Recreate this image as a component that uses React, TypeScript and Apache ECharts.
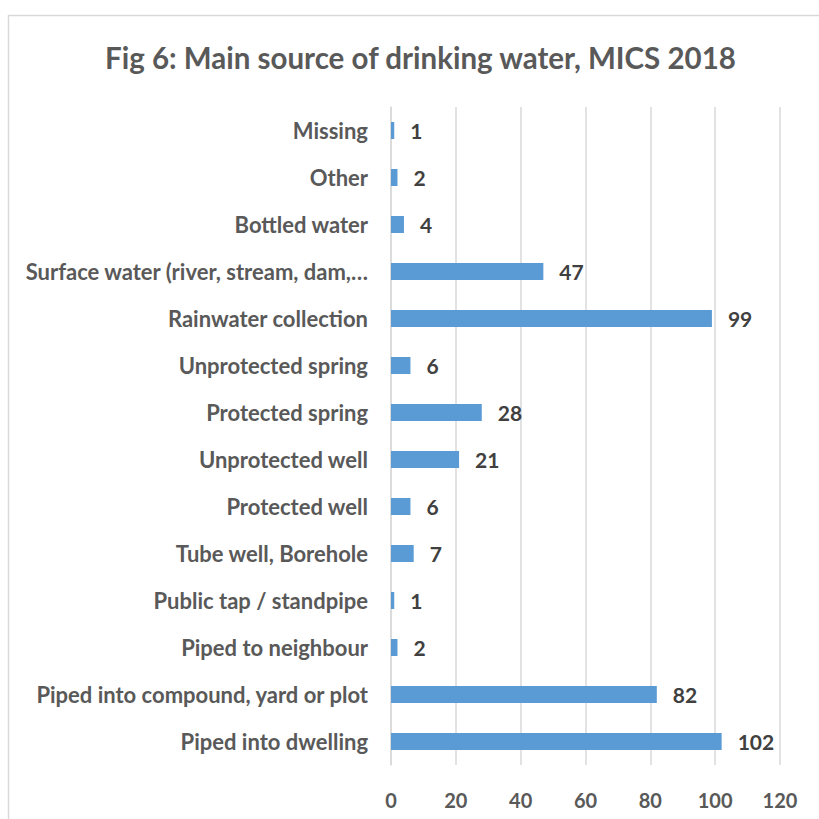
import React, { useEffect, useRef } from "react";
import * as echarts from "echarts";

const categories = [
  "Piped into dwelling",
  "Piped into compound, yard or plot",
  "Piped to neighbour",
  "Public tap / standpipe",
  "Tube well, Borehole",
  "Protected well",
  "Unprotected well",
  "Protected spring",
  "Unprotected spring",
  "Rainwater collection",
  "Surface water (river, stream, dam,…",
  "Bottled water",
  "Other",
  "Missing",
];
const values = [102, 82, 2, 1, 7, 6, 21, 28, 6, 99, 47, 4, 2, 1];
const xTicks = [0, 20, 40, 60, 80, 100, 120];

const FONT = "Lato, 'Open Sans', sans-serif";

export default function App() {
  const ref = useRef<HTMLDivElement>(null);
  useEffect(() => {
    if (!ref.current) return;
    const chart = echarts.init(ref.current, undefined, { renderer: "svg" });
    chart.setOption({
      animation: false,
      backgroundColor: "#ffffff",
      title: {
        text: "Fig 6: Main source of drinking water, MICS 2018",
        left: 100,
        top: 37,
        textStyle: { fontFamily: FONT, fontWeight: "bold", fontSize: 29.5, color: "#595959" },
      },
      graphic: [
        {
          type: "rect",
          shape: { x: 8.5, y: 15.5, width: 900, height: 900 },
          style: { fill: "none", stroke: "#d9d9d9", lineWidth: 1.5 },
          silent: true,
        },
      ],
      grid: { left: 391, right: 39, top: 107, bottom: 54, containLabel: false },
      xAxis: {
        type: "value",
        min: xTicks[0],
        max: xTicks[xTicks.length - 1],
        interval: 20,
        axisLine: { show: false },
        axisTick: { show: false },
        splitLine: { show: true, lineStyle: { color: "#d9d9d9", width: 1.5 } },
        axisLabel: {
          margin: 25,
          fontFamily: FONT,
          fontWeight: "bold",
          fontSize: 20,
          color: "#595959",
        },
      },
      yAxis: {
        type: "category",
        data: categories,
        axisLine: { show: true, lineStyle: { color: "#d9d9d9", width: 1.5 } },
        axisTick: { show: false },
        axisLabel: {
          margin: 23,
          fontFamily: FONT,
          fontWeight: "bold",
          fontSize: 22,
          color: "#595959",
        },
      },
      series: [
        {
          type: "bar",
          data: values,
          barWidth: 17,
          itemStyle: { color: "#5b9bd5" },
          label: {
            show: true,
            position: "right",
            distance: 16,
            fontFamily: FONT,
            fontWeight: "bold",
            fontSize: 21,
            color: "#404040",
          },
        },
      ],
    });
    return () => chart.dispose();
  }, []);
  return (
    <div
      ref={ref}
      style={{ position: "fixed", left: 0, top: 0, width: 819, height: 819 }}
    />
  );
}
